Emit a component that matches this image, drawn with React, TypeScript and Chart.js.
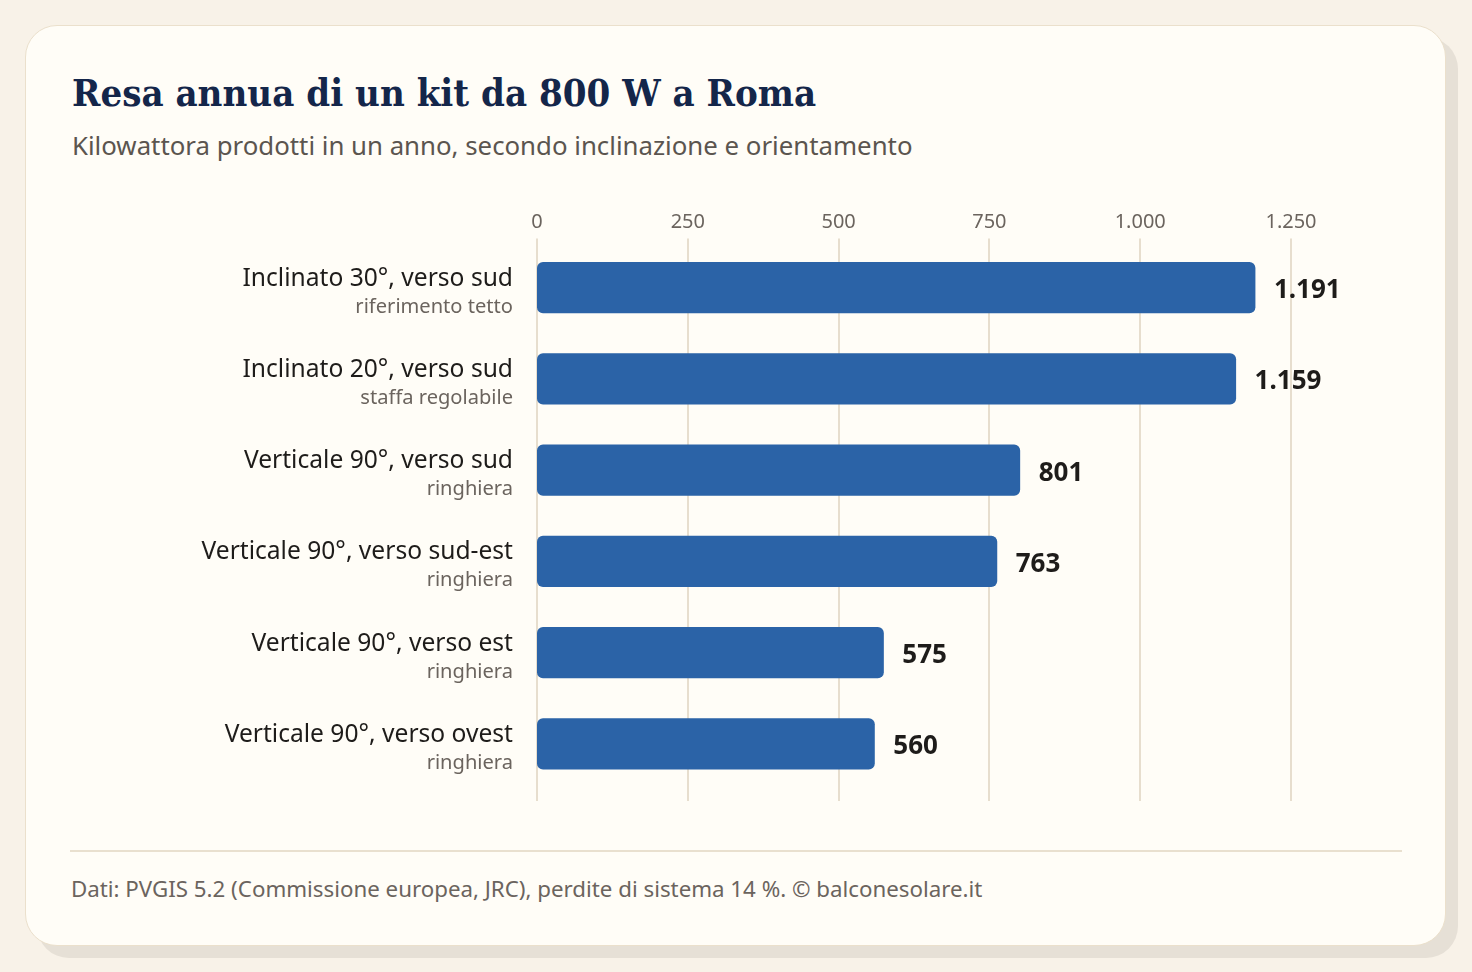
import { useEffect, useRef } from "react"
import { Chart, registerables, type ChartConfiguration, type Plugin } from "chart.js"

Chart.register(...registerables)

const mainLabels = [
  "Inclinato 30°, verso sud",
  "Inclinato 20°, verso sud",
  "Verticale 90°, verso sud",
  "Verticale 90°, verso sud-est",
  "Verticale 90°, verso est",
  "Verticale 90°, verso ovest",
]
const subLabels = [
  "riferimento tetto",
  "staffa regolabile",
  "ringhiera",
  "ringhiera",
  "ringhiera",
  "ringhiera",
]
const kwhValues = [1191, 1159, 801, 763, 575, 560]
const axisMax = 1250
const axisStep = 250

const SANS = "'Noto Sans', 'Open Sans', sans-serif"
const BAR = "#2b63a7"
const GRID = "#e7dece"

// italian thousands separator
const fmt = (v: number) => String(Math.round(v)).replace(/\B(?=(\d{3})+(?!\d))/g, ".")

const gridPlugin: Plugin<"bar"> = {
  id: "gridLines",
  beforeDatasetsDraw(chart) {
    const { ctx, chartArea } = chart
    const x = chart.scales.x
    ctx.save()
    ctx.strokeStyle = GRID
    ctx.lineWidth = 2
    x.ticks.forEach((t) => {
      const px = Math.round(x.getPixelForValue(t.value))
      ctx.beginPath()
      ctx.moveTo(px, chartArea.top - 3.5)
      ctx.lineTo(px, chartArea.bottom + 11.5)
      ctx.stroke()
    })
    ctx.restore()
  },
}

const labelPlugin: Plugin<"bar"> = {
  id: "labels",
  afterDatasetsDraw(chart) {
    const { ctx, chartArea } = chart
    const y = chart.scales.y
    ctx.save()
    ctx.textAlign = "right"
    ctx.textBaseline = "alphabetic"
    mainLabels.forEach((lab, i) => {
      const py = y.getPixelForValue(i)
      ctx.fillStyle = "#1e1c1a"
      ctx.font = `400 24.6px ${SANS}`
      ctx.fillText(lab, chartArea.left - 24, py - 2)
      ctx.fillStyle = "#6b645e"
      ctx.font = `400 20.1px ${SANS}`
      ctx.fillText(subLabels[i], chartArea.left - 24, py + 25)
    })
    // values at bar ends
    const meta = chart.getDatasetMeta(0)
    ctx.textAlign = "left"
    ctx.textBaseline = "middle"
    ctx.fillStyle = "#1e1c1a"
    ctx.font = `700 26px ${SANS}`
    meta.data.forEach((bar, i) => {
      ctx.fillText(fmt(kwhValues[i]), bar.x + 18.5, bar.y + 3)
    })
    ctx.restore()
  },
}

function YieldChart() {
  const canvasRef = useRef<HTMLCanvasElement>(null)
  const chartRef = useRef<Chart<"bar"> | null>(null)

  useEffect(() => {
    if (!canvasRef.current) return
    if (chartRef.current) chartRef.current.destroy()

    const config: ChartConfiguration<"bar"> = {
      type: "bar",
      data: {
        labels: mainLabels,
        datasets: [
          {
            data: kwhValues,
            backgroundColor: BAR,
            borderRadius: 6,
            borderSkipped: false,
            barPercentage: 0.56,
            categoryPercentage: 1,
          },
        ],
      },
      options: {
        indexAxis: "y",
        responsive: true,
        maintainAspectRatio: false,
        animation: false,
        layout: { padding: { left: 512, right: 155, top: 13, bottom: 40.5 } },
        plugins: {
          legend: { display: false },
          tooltip: { enabled: false },
        },
        scales: {
          x: {
            position: "top",
            min: 0,
            max: axisMax,
            border: { display: false },
            grid: { display: false, drawTicks: false },
            ticks: {
              stepSize: axisStep,
              padding: 7.5,
              color: "#6b645e",
              font: { family: SANS, size: 20 },
              callback: (v) => fmt(Number(v)),
            },
          },
          y: {
            display: false,
          },
        },
      },
      plugins: [gridPlugin, labelPlugin],
    }

    chartRef.current = new Chart(canvasRef.current, config)
    return () => {
      if (chartRef.current) {
        chartRef.current.destroy()
        chartRef.current = null
      }
    }
  }, [])

  return (
    <div style={{ position: "absolute", left: 25, top: 190, width: 1421, height: 640 }}>
      <canvas ref={canvasRef}></canvas>
    </div>
  )
}

export default function App() {
  useEffect(() => {
    document.body.style.margin = "0"
    document.body.style.background = "#f8f2e8"
  }, [])

  return (
    <div style={{ position: "relative", width: 1472, height: 972, background: "#f8f2e8", overflow: "hidden" }}>
      <div
        style={{
          position: "absolute",
          left: 25,
          top: 25,
          width: 1421,
          height: 921,
          boxSizing: "border-box",
          background: "#fffdf7",
          border: "1.5px solid #ebe0cc",
          borderRadius: 32,
          boxShadow: "12px 12px 0 #e6e0d6",
        }}
      />
      <div
        style={{
          position: "absolute",
          left: 72,
          top: 73,
          fontFamily: "'DejaVu Serif Condensed', 'DejaVu Serif', serif",
          fontStretch: "condensed",
          fontWeight: 700,
          fontSize: 38,
          lineHeight: "40px",
          color: "#14264a",
          whiteSpace: "nowrap",
        }}
      >
        Resa annua di un kit da 800 W a Roma
      </div>
      <div
        style={{
          position: "absolute",
          left: 72,
          top: 133,
          fontFamily: SANS,
          fontSize: 25.8,
          lineHeight: "25px",
          color: "#5b554f",
          whiteSpace: "nowrap",
        }}
      >
        Kilowattora prodotti in un anno, secondo inclinazione e orientamento
      </div>
      <YieldChart />
      <div style={{ position: "absolute", left: 70, top: 850, width: 1332, height: 2, background: "#e9e0cf" }} />
      <div
        style={{
          position: "absolute",
          left: 71,
          top: 878,
          fontFamily: SANS,
          fontSize: 22.3,
          lineHeight: "22px",
          color: "#6b645e",
          whiteSpace: "nowrap",
        }}
      >
        Dati: PVGIS 5.2 (Commissione europea, JRC), perdite di sistema 14 %. © balconesolare.it
      </div>
    </div>
  )
}
